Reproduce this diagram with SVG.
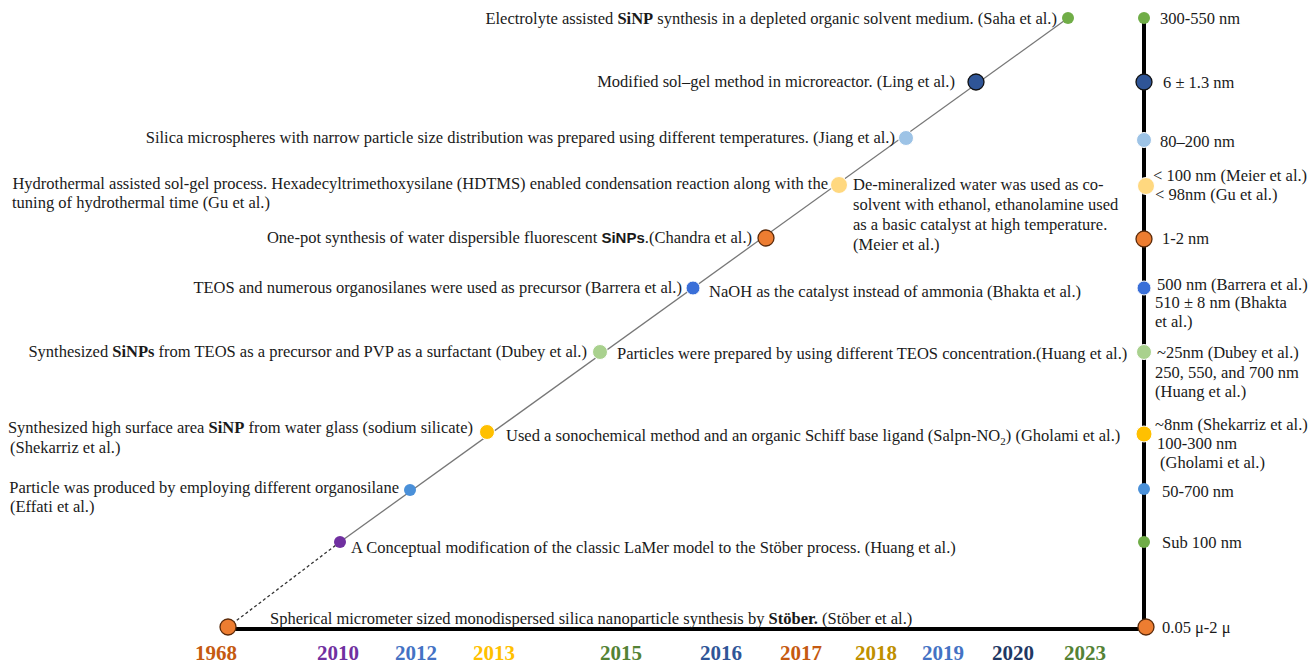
<svg xmlns="http://www.w3.org/2000/svg" width="1309" height="664" viewBox="0 0 1309 664">
<style>
text{font-family:"Liberation Serif","Times New Roman",serif;font-size:16.5px;fill:#1a1a1a}
.e{text-anchor:end}
.b{font-weight:bold}
.bs{font-family:"Liberation Sans",Arial,sans-serif;font-weight:bold;font-size:15px}
.yr{font-size:21px;font-weight:bold;text-anchor:middle}
.axis{stroke:#000;stroke-width:4;fill:none}
.diag{stroke:#777;stroke-width:1.3;fill:none}
.dash{stroke:#333;stroke-width:1.3;stroke-dasharray:3,2.5;fill:none}
.ol{stroke:#5a2a0a;stroke-width:1.3}
.on{stroke:#111;stroke-width:1.3}
.wl{stroke:#fff;stroke-width:1}
</style>
<rect width="1309" height="664" fill="#fff"/>
<g id="connectors">
<line class="axis" x1="228" y1="629" x2="1146" y2="629"/>
<line class="axis" x1="1144" y1="18" x2="1144" y2="631"/>
<line class="dash" x1="228" y1="627" x2="340" y2="542"/>
<line class="diag" x1="340" y1="542" x2="1068" y2="18"/>
</g>
<g id="n1968">
<circle class="ol" cx="228" cy="627" r="8" fill="#ed7d31"/>
<text x="270" y="624">Spherical micrometer sized monodispersed silica nanoparticle synthesis by <tspan class="b">Stöber.</tspan> (Stöber et al.)</text>
<circle class="ol" cx="1146" cy="627" r="8" fill="#ed7d31"/>
<text x="1162" y="633">0.05 μ-2 μ</text>
<text class="yr" x="216" y="660" style="fill:#c55a11">1968</text>
</g>
<g id="n2010">
<circle cx="340" cy="542" r="6" fill="#7030a0"/>
<text x="351" y="553">A Conceptual modification of the classic LaMer model to the Stöber process. (Huang et al.)</text>
<circle cx="1144" cy="542" r="6" fill="#70ad47"/>
<text x="1162" y="548">Sub 100 nm</text>
<text class="yr" x="338" y="660" style="fill:#7030a0">2010</text>
</g>
<g id="n2012">
<circle cx="410" cy="490" r="6" fill="#4a90d9"/>
<text class="e" x="399" y="493">Particle was produced by employing different organosilane</text>
<text x="10" y="512">(Effati et al.)</text>
<circle cx="1144" cy="489" r="6" fill="#4a90d9"/>
<text x="1162" y="497">50-700 nm</text>
<text class="yr" x="416" y="660" style="fill:#4472c4">2012</text>
</g>
<g id="n2013">
<circle class="wl" cx="487" cy="432" r="7.5" fill="#ffc000"/>
<text class="e" x="473" y="433">Synthesized high surface area <tspan class="b">SiNP</tspan> from water glass (sodium silicate)</text>
<text x="10" y="453">(Shekarriz et al.)</text>
<text x="506" y="441">Used a sonochemical method and an organic Schiff base ligand (Salpn-NO<tspan font-size="11" dy="4">2</tspan><tspan dy="-4">) (Gholami et al.)</tspan></text>
<circle class="wl" cx="1144" cy="434" r="8" fill="#ffc000"/>
<text x="1155" y="430">~8nm (Shekarriz et al.)</text>
<text x="1157" y="449">100-300 nm</text>
<text x="1160" y="468">(Gholami et al.)</text>
<text class="yr" x="494" y="660" style="fill:#ffc000">2013</text>
</g>
<g id="n2015">
<circle class="wl" cx="600" cy="352" r="7.5" fill="#a9d18e"/>
<text class="e" x="587" y="357">Synthesized <tspan class="b">SiNPs</tspan> from TEOS as a precursor and PVP as a surfactant (Dubey et al.)</text>
<text x="617" y="359">Particles were prepared by using different TEOS concentration.(Huang et al.)</text>
<circle class="wl" cx="1144" cy="352" r="7.5" fill="#a9d18e"/>
<text x="1157" y="358">~25nm (Dubey et al.)</text>
<text x="1155" y="378">250, 550, and 700 nm</text>
<text x="1155" y="397">(Huang et al.)</text>
<text class="yr" x="621" y="660" style="fill:#548235">2015</text>
</g>
<g id="n2016">
<circle class="wl" cx="693" cy="288" r="7" fill="#3a6fd8"/>
<text class="e" x="682" y="293">TEOS and numerous organosilanes were used as precursor (Barrera et al.)</text>
<text x="709" y="297">NaOH as the catalyst instead of ammonia (Bhakta et al.)</text>
<circle class="wl" cx="1144" cy="288" r="7" fill="#3a6fd8"/>
<text x="1157" y="290">500 nm (Barrera et al.)</text>
<text x="1155" y="308">510 ± 8 nm (Bhakta</text>
<text x="1155" y="327">et al.)</text>
<text class="yr" x="721" y="660" style="fill:#2f5597">2016</text>
</g>
<g id="n2017">
<circle class="ol" cx="766" cy="238" r="8" fill="#ed7d31"/>
<text class="e" x="752" y="243">One-pot synthesis of water dispersible fluorescent <tspan class="bs">SiNPs</tspan>.(Chandra et al.)</text>
<circle class="ol" cx="1144" cy="239" r="8" fill="#ed7d31"/>
<text x="1162" y="244">1-2 nm</text>
<text class="yr" x="801" y="660" style="fill:#c55a11">2017</text>
</g>
<g id="n2018">
<circle class="wl" cx="839" cy="185" r="8.5" fill="#ffd87f"/>
<text class="e" x="828" y="189">Hydrothermal assisted sol-gel process. Hexadecyltrimethoxysilane (HDTMS) enabled condensation reaction along with the</text>
<text x="12" y="208">tuning of hydrothermal time (Gu et al.)</text>
<text x="853" y="190">De-mineralized water was used as co-</text>
<text x="853" y="210">solvent with ethanol, ethanolamine used</text>
<text x="853" y="230">as a basic catalyst at high temperature.</text>
<text x="853" y="250">(Meier et al.)</text>
<circle class="wl" cx="1146" cy="186" r="8.5" fill="#ffd87f"/>
<text x="1153" y="181">&lt; 100 nm (Meier et al.)</text>
<text x="1155" y="200">&lt; 98nm (Gu et al.)</text>
<text class="yr" x="876" y="660" style="fill:#bf9000">2018</text>
</g>
<g id="n2019">
<circle class="wl" cx="906" cy="138" r="7.5" fill="#9dc3e6"/>
<text class="e" x="895" y="143">Silica microspheres with narrow particle size distribution was prepared using different temperatures. (Jiang et al.)</text>
<circle class="wl" cx="1144" cy="140" r="7.5" fill="#9dc3e6"/>
<text x="1160" y="147">80–200 nm</text>
<text class="yr" x="943" y="660" style="fill:#4472c4">2019</text>
</g>
<g id="n2020">
<circle class="on" cx="976" cy="82" r="8" fill="#2f5597"/>
<text class="e" x="955" y="87">Modified sol–gel method in microreactor.  (Ling et al.)</text>
<circle class="on" cx="1144" cy="82" r="8" fill="#2f5597"/>
<text x="1163" y="88">6 ± 1.3 nm</text>
<text class="yr" x="1013" y="660" style="fill:#1f3864">2020</text>
</g>
<g id="n2023">
<circle cx="1068" cy="18" r="6" fill="#70ad47"/>
<text class="e" x="1057" y="24">Electrolyte assisted <tspan class="b">SiNP</tspan> synthesis in a depleted organic solvent medium. (Saha et al.)</text>
<circle cx="1144" cy="18" r="6" fill="#70ad47"/>
<text x="1160" y="24">300-550 nm</text>
<text class="yr" x="1085" y="660" style="fill:#548235">2023</text>
</g>
</svg>
